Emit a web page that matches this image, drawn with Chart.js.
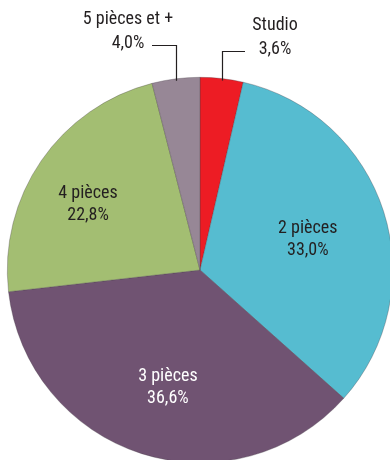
<!DOCTYPE html>
<html>
<head>
<meta charset="utf-8">
<script src="https://cdn.jsdelivr.net/npm/chart.js@4"></script>
<style>
  html, body { margin: 0; padding: 0; background: #fff; overflow: hidden; width: 390px; height: 460px; }
  #wrap { position: relative; width: 400px; height: 480px; }
</style>
</head>
<body>
<div id="wrap"><canvas id="pieChart" width="400" height="480"></canvas></div>
<script>
// Data
const categories = ['Studio', '2 pièces', '3 pièces', '4 pièces', '5 pièces et +'];
const shares = [3.6, 33.0, 36.6, 22.8, 4.0];
const colors = ['#ed1c24', '#56bcd0', '#705372', '#a3be72', '#978796'];

const FONT = '"Liberation Sans Narrow", "Arial Narrow", "Roboto Condensed", Roboto, sans-serif';
const fmt = v => v.toFixed(1).replace('.', ',') + '%';
const deg = Math.PI / 180;

// Labels: inside for big slices, outside with a leader line for small ones
const sliceLabels = {
  id: 'sliceLabels',
  afterDatasetsDraw(chart) {
    const ctx = chart.ctx;
    const arcs = chart.getDatasetMeta(0).data;
    const inside = {
      1: { r: 0.582, da: 1.6, color: '#231f20' },
      2: { r: 0.634, da: -2.4, color: '#ffffff' },
      3: { r: 0.674, da: -4.1, color: '#231f20' }
    };
    const outside = {
      0: { lineY: 51, toX: 245, textX: 275, textY: 25 },
      4: { lineY: 45, toX: 152, textX: 128, textY: 19 }
    };
    ctx.save();
    ctx.font = '18px ' + FONT;
    ctx.textAlign = 'center';
    ctx.textBaseline = 'middle';
    arcs.forEach((arc, i) => {
      const p = arc.getProps(['x', 'y', 'startAngle', 'endAngle', 'outerRadius'], true);
      const mid = (p.startAngle + p.endAngle) / 2;
      if (inside[i]) {
        const a = mid + inside[i].da * deg;
        const r = p.outerRadius * inside[i].r;
        const x = p.x + Math.cos(a) * r, y = p.y + Math.sin(a) * r;
        ctx.fillStyle = inside[i].color;
        ctx.fillText(categories[i], x, y - 11);
        ctx.fillText(fmt(shares[i]), x, y + 11);
      } else if (outside[i]) {
        const o = outside[i];
        const ex = p.x + Math.cos(mid) * p.outerRadius;
        const ey = p.y + Math.sin(mid) * p.outerRadius;
        ctx.strokeStyle = '#231f20';
        ctx.lineWidth = 1.2;
        ctx.beginPath();
        ctx.moveTo(Math.round(ex) + 0.5, ey + 2);
        ctx.lineTo(Math.round(ex) + 0.5, o.lineY + 0.5);
        ctx.lineTo(o.toX, o.lineY + 0.5);
        ctx.stroke();
        ctx.fillStyle = '#231f20';
        ctx.fillText(categories[i], o.textX, o.textY);
        ctx.fillText(fmt(shares[i]), o.textX, o.textY + 24);
      }
    });
    ctx.restore();
  }
};

new Chart(document.getElementById('pieChart'), {
  type: 'pie',
  data: {
    labels: categories,
    datasets: [{
      data: shares,
      backgroundColor: colors,
      borderColor: 'rgba(70,60,70,0.55)',
      borderWidth: 0.6
    }]
  },
  options: {
    responsive: false,
    animation: false,
    layout: { padding: { left: 7, right: 7, top: 77, bottom: 17 } },
    plugins: { legend: { display: false }, tooltip: { enabled: false } }
  },
  plugins: [sliceLabels]
});
</script>
</body>
</html>
